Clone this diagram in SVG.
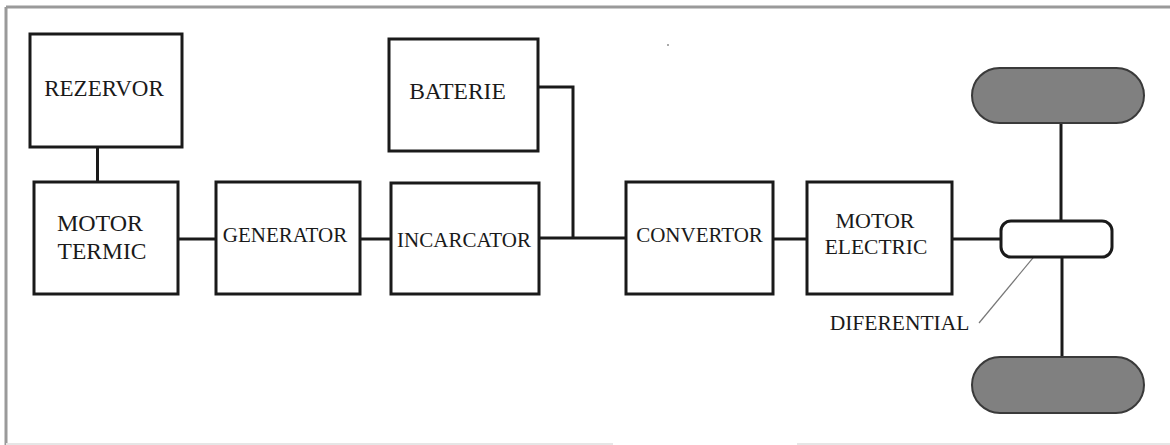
<svg xmlns="http://www.w3.org/2000/svg" width="1170" height="445" viewBox="0 0 1170 445">
<style>
.box{fill:#fff;stroke:#1a1a1a;stroke-width:3}
.ln{fill:none;stroke:#1a1a1a;stroke-width:3}
.wheel{fill:#808080;stroke:#3a3a3a;stroke-width:2}
.t{font-family:"Liberation Serif","Times New Roman",serif;fill:#1a1a1a;text-anchor:middle}
</style>
<rect width="1170" height="445" fill="#fff"/>
<g id="frame">
<line x1="6" y1="7" x2="1170" y2="7" stroke="#9a9a9a" stroke-width="3"/>
<line x1="6" y1="7" x2="6" y2="445" stroke="#9a9a9a" stroke-width="3"/>
<line x1="6" y1="444" x2="613" y2="444" stroke="#e6e6e6" stroke-width="2"/>
<line x1="797" y1="444" x2="1170" y2="444" stroke="#e6e6e6" stroke-width="2"/>
<rect x="667" y="44" width="2" height="2" fill="#aaa"/>
</g>
<g id="connectors">
<line class="ln" x1="97.5" y1="147" x2="97.5" y2="182"/>
<line class="ln" x1="178" y1="239" x2="216" y2="239"/>
<line class="ln" x1="360" y1="239" x2="391" y2="239"/>
<polyline class="ln" points="538,87 573,87 573,238"/>
<line class="ln" x1="539" y1="238" x2="626" y2="238"/>
<line class="ln" x1="773" y1="239" x2="807" y2="239"/>
<line class="ln" x1="952" y1="239" x2="1001" y2="239"/>
<line class="ln" x1="1061" y1="123" x2="1061" y2="221"/>
<line class="ln" x1="1062" y1="257" x2="1062" y2="357"/>
<line x1="979" y1="323" x2="1042" y2="247" stroke="#777" stroke-width="1.2"/>
</g>
<g id="rezervor">
<rect class="box" x="30" y="34" width="152" height="113"/>
<text class="t" x="104" y="96" font-size="23">REZERVOR</text>
</g>
<g id="motor-termic">
<rect class="box" x="34" y="182" width="144" height="112"/>
<text class="t" x="100" y="231" font-size="24">MOTOR</text>
<text class="t" x="102" y="259" font-size="23.5">TERMIC</text>
</g>
<g id="generator">
<rect class="box" x="216" y="182" width="144" height="112"/>
<text class="t" x="285" y="242" font-size="21">GENERATOR</text>
</g>
<g id="baterie">
<rect class="box" x="389" y="39" width="149" height="112"/>
<text class="t" x="457.5" y="99" font-size="23.5">BATERIE</text>
</g>
<g id="incarcator">
<rect class="box" x="391" y="183" width="148" height="111"/>
<text class="t" x="464" y="247" font-size="21">INCARCATOR</text>
</g>
<g id="convertor">
<rect class="box" x="626" y="182" width="147" height="112"/>
<text class="t" x="699.5" y="242" font-size="21">CONVERTOR</text>
</g>
<g id="motor-electric">
<rect class="box" x="807" y="182" width="145" height="112"/>
<text class="t" x="875" y="228" font-size="22">MOTOR</text>
<text class="t" x="876" y="254" font-size="21.5">ELECTRIC</text>
</g>
<g id="diferential">
<rect class="box" x="1001" y="221" width="111" height="36" rx="10"/>
<text class="t" x="899.5" y="330" font-size="21.5">DIFERENTIAL</text>
</g>
<g id="wheel-top">
<rect class="wheel" x="972" y="68" width="172" height="55" rx="27.5"/>
</g>
<g id="wheel-bottom">
<rect class="wheel" x="972" y="357" width="172" height="56" rx="28"/>
</g>
</svg>
